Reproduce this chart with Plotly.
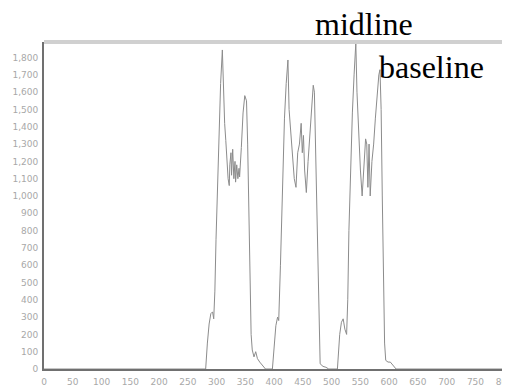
import plotly.graph_objects as go

x_vals = [0, 281, 284, 287, 290, 293, 295, 297, 299, 301, 303, 305, 307, 310, 312, 314, 316, 318, 320, 322, 323, 325, 326, 328, 330, 332, 333, 335, 337, 339, 340, 343, 346, 349, 352, 354, 356, 358, 360, 362, 365, 368, 371, 375, 380, 385,
          397, 400, 403, 406, 408, 411, 414, 418, 421, 424, 426, 429, 432, 435, 438, 441, 444, 447, 449, 451, 453, 456, 459, 462, 465, 468, 470, 473, 476, 478, 480, 485, 490, 495,
          510, 514, 517, 520, 523, 526, 528, 530, 533, 536, 539, 542, 544, 547, 550, 553, 556, 559, 561, 563, 565, 567, 570, 573, 576, 579, 582, 584, 586, 588, 590, 592, 594, 598, 602, 607, 612, 800]
y_vals = [0, 0, 150, 260, 320, 330, 290, 450, 750, 1000, 1250, 1500, 1650, 1844, 1600, 1420, 1320, 1200, 1100, 1060, 1180, 1250, 1120, 1270, 1100, 1200, 1080, 1180, 1100, 1160, 1110, 1280, 1480, 1580, 1550, 1300, 900, 500, 200, 110, 70, 100, 60, 40, 20, 0,
          0, 120, 250, 300, 280, 600, 1000, 1450, 1650, 1786, 1500, 1350, 1200, 1100, 1050, 1250, 1300, 1420, 1250, 1350, 1150, 1020, 1200, 1350, 1550, 1640, 1600, 1100, 600, 200, 30, 15, 10, 0,
          0, 200, 270, 290, 230, 200, 400, 800, 1200, 1480, 1700, 1884, 1600, 1350, 1150, 1000, 1150, 1330, 1300, 1050, 1300, 1000, 1200, 1300, 1450, 1600, 1700, 1730, 1500, 1000, 500, 150, 50, 40, 40, 20, 0, 0]

x_ticks = list(range(0, 801, 50))
y_ticks = list(range(0, 1801, 100))

OFF = 8  # default page body margin
W, H = 510 - OFF, 387 - OFF
ML, MR, MT, MB = 44 - OFF, 0, 42 - OFF, 18
pw = W - ML - MR
ph = H - MT - MB

def px(x):
    return (x - OFF - ML) / pw

def py(y):
    return (OFF + H - MB - y) / ph

fig = go.Figure()
fig.add_trace(go.Scatter(x=x_vals, y=y_vals, mode="lines",
                         line=dict(color="#8c8c8c", width=1), hoverinfo="skip"))

tick_font = dict(size=9, color="#a8a8a8", family="DejaVu Sans")

fig.update_layout(
    width=W, height=H,
    margin=dict(l=ML, r=MR, t=MT, b=MB),
    paper_bgcolor="white", plot_bgcolor="white",
    showlegend=False,
    xaxis=dict(range=[0, 810], tickvals=x_ticks, showgrid=False, zeroline=False,
               showline=True, linecolor="#707070", linewidth=2, automargin=False,
               tickfont=tick_font, ticks="", fixedrange=True,
               ticklabeloverflow="allow", ticklabelstandoff=3),
    yaxis=dict(range=[0, 1890], tickvals=y_ticks, tickformat=",", showgrid=False, zeroline=False,
               showline=True, linecolor="#707070", linewidth=2, automargin=False,
               tickfont=tick_font, ticks="", fixedrange=True, ticklabelstandoff=2),
    shapes=[dict(type="line", xref="paper", yref="paper", x0=0, x1=1, y0=1, y1=1,
                 line=dict(color="#d0d0d0", width=4))],
    annotations=[
        dict(text="midline", xref="paper", yref="paper", x=px(313), y=py(24),
             xanchor="left", yanchor="middle", showarrow=False,
             font=dict(family="Liberation Serif", size=32, color="black")),
        dict(text="baseline", xref="paper", yref="paper", x=px(377), y=py(67),
             xanchor="left", yanchor="middle", showarrow=False,
             font=dict(family="Liberation Serif", size=32, color="black")),
    ],
)

fig.write_html("out.html")
